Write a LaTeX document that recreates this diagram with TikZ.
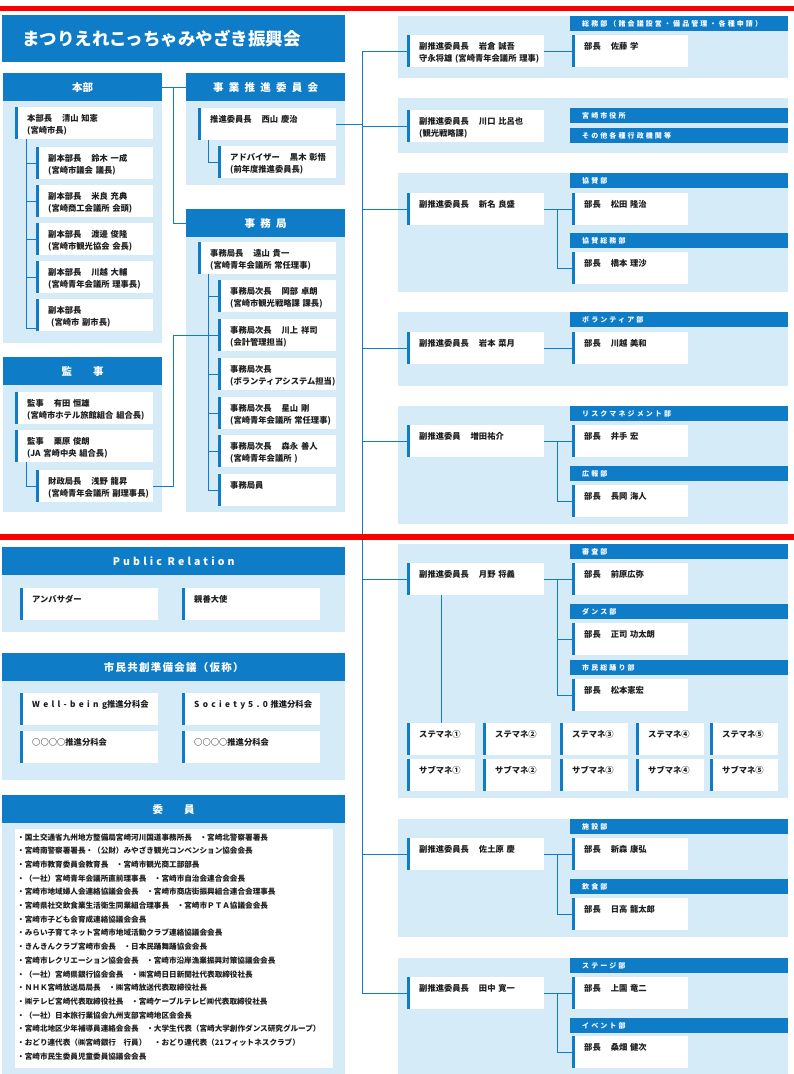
\documentclass[tikz,border=0pt]{standalone}
\usepackage{fontspec}
\setmainfont{Noto Sans CJK JP}
\newfontfamily\hdwide{Noto Sans CJK JP}[LetterSpace=50]
\newfontfamily\hdmid{Noto Sans CJK JP}[LetterSpace=30]
\newfontfamily\hdnarrow{Noto Sans CJK JP}[LetterSpace=12]
\newfontfamily\latwide{Noto Sans CJK JP}[LetterSpace=40]

\definecolor{hblue}{RGB}{14,124,199}
\definecolor{lblue}{RGB}{213,235,248}
\definecolor{ink}{RGB}{30,30,30}
\definecolor{redline}{RGB}{250,0,0}

\newcommand{\gap}{\nobreak\hspace{1.2em}}

\tikzset{
  ln/.style={draw=hblue, line width=1pt},
  pnl/.style={fill=lblue},
  hd/.style={fill=hblue, text=white, anchor=north west, inner sep=0pt,
    minimum width=#1, minimum height=28pt,
    font=\bfseries\fontsize{10.5}{12}\selectfont},
  sec/.style={fill=hblue, text=white, anchor=north west, inner xsep=12pt,
    inner ysep=0pt, text width=194pt, minimum height=15pt, align=left,
    font=\hdmid\bfseries\fontsize{7}{9}\selectfont},
  mb/.style={fill=white, anchor=north west, inner xsep=12pt, inner ysep=3pt,
    text width=#1, align=left, text height=11pt, text depth=15pt, text=ink,
    font=\bfseries\fontsize{8.3}{12}\selectfont,
    path picture={\fill[hblue] (path picture bounding box.north west)
      rectangle ([xshift=3pt]path picture bounding box.south west);}},
}

\begin{document}
\begin{tikzpicture}[x=1pt, y=-1pt]
\useasboundingbox (0,0) rectangle (794,1074);

% panels
\fill[pnl] (3,101) rectangle (162,343);
\fill[pnl] (186,101) rectangle (345,185);
\fill[pnl] (186,237) rectangle (345,512);
\fill[pnl] (3,385) rectangle (162,512);
\fill[pnl] (2,575) rectangle (345,632);
\fill[pnl] (2,681) rectangle (345,780);
\fill[pnl] (2,823) rectangle (345,1074);
\fill[white] (15,829) rectangle (333,1068);
\foreach \ya/\yb in {16/78, 98/153, 173/292, 312/386, 406/524, 544/798, 819/937, 958/1074}
  \fill[pnl] (398,\ya) rectangle (788,\yb);

% title and headers
\node[hd=343pt, minimum height=47pt, inner xsep=20pt, text width=303pt, align=left,
  font=\bfseries\fontsize{17.5}{20}\selectfont] (ttl) at (2,15) {まつりえれこっちゃみやざき振興会};
\node[hd=159pt] (hd1) at (3,73) {本部};
\node[hd=159pt] (hd2) at (186,73) {\hdwide 事業推進委員会};
\node[hd=159pt] (hd3) at (186,209) {\hdwide 事務局};
\node[hd=159pt] (hd4) at (3,357) {\hdwide 監　事};
\node[hd=343pt] (hd5) at (2,547) {\hdmid Public Relation};
\node[hd=343pt] (hd6) at (2,653) {\hdnarrow 市民共創準備会議（仮称）};
\node[hd=343pt] (hd7) at (2,795) {\hdwide 委　員};

% 本部
\node[mb=114pt] (h0) at (15,107) {本部長\gap 清山~知憲\\(宮崎市長)};
\node[mb=93pt] (h1) at (36,147) {副本部長\gap 鈴木~一成\\(宮崎市議会~議長)};
\node[mb=93pt] (h2) at (36,185) {副本部長\gap 米良~充典\\(宮崎商工会議所~会頭)};
\node[mb=93pt] (h3) at (36,223) {副本部長\gap 渡邊~俊隆\\(宮崎市観光協会~会長)};
\node[mb=93pt] (h4) at (36,261) {副本部長\gap 川越~大輔\\(宮崎青年会議所~理事長)};
\node[mb=93pt] (h5) at (36,299) {副本部長\\\hspace*{3pt}(宮崎市~副市長)};

% 事業推進委員会
\node[mb=114pt] (p0) at (198,108) {推進委員長\gap 西山~慶治};
\node[mb=94pt] (p1) at (218,146) {アドバイザー\gap 黒木~彰悟\\(前年度推進委員長)};

% 事務局
\node[mb=114pt] (j0) at (198,242) {事務局長\gap 遠山~貴一\\(宮崎青年会議所~常任理事)};
\node[mb=94pt] (j1) at (218,280) {事務局次長\gap 岡部~卓朗\\(宮崎市観光戦略課~課長)};
\node[mb=94pt] (j2) at (218,319) {事務局次長\gap 川上~祥司\\(会計管理担当)};
\node[mb=94pt] (j3) at (218,358) {事務局次長\\(ボランティアシステム担当)};
\node[mb=94pt] (j4) at (218,397) {事務局次長\gap 星山~剛\\(宮崎青年会議所~常任理事)};
\node[mb=94pt] (j5) at (218,435) {事務局次長\gap 森永~善人\\(宮崎青年会議所~)};
\node[mb=94pt] (j6) at (218,474) {事務局員};

% 監事
\node[mb=114pt] (k0) at (15,392) {監事\gap 有田~恒雄\\(宮崎市ホテル旅館組合~組合長)};
\node[mb=114pt] (k1) at (15,430) {監事\gap 栗原~俊朗\\(JA~宮崎中央~組合長)};
\node[mb=93pt] (k2) at (36,470) {財政局長\gap 浅野~龍昇\\(宮崎青年会議所~副理事長)};

% Public Relation / 市民共創準備会議
\node[mb=114pt] (pr1) at (20,588) {アンバサダー};
\node[mb=114pt] (pr2) at (182,588) {親善大使};
\node[mb=114pt] (c1) at (20,693) {{\latwide Well-being}推進分科会};
\node[mb=114pt] (c2) at (182,693) {{\latwide Society~5.0}~推進分科会};
\node[mb=114pt] (c3) at (20,731) {○○○○推進分科会};
\node[mb=114pt] (c4) at (182,731) {○○○○推進分科会};

% 委員
\node[anchor=base west, inner sep=0pt, text width=314pt, align=left, text=ink,
  font=\bfseries\fontsize{7.6}{13.7}\selectfont] (iin) at (17,840) {%
・国土交通省九州地方整備局宮崎河川国道事務所長　・宮崎北警察署署長\\
・宮崎南警察署署長・（公財）みやざき観光コンベンション協会会長\\
・宮崎市教育委員会教育長　・宮崎市観光商工部部長\\
・（一社）宮崎青年会議所直前理事長　・宮崎市自治会連合会会長\\
・宮崎市地域婦人会連絡協議会会長　・宮崎市商店街振興組合連合会理事長\\
・宮崎県社交飲食業生活衛生同業組合理事長　・宮崎市ＰＴＡ協議会会長\\
・宮崎市子ども会育成連絡協議会会長\\
・みらい子育てネット宮崎市地域活動クラブ連絡協議会会長\\
・きんきんクラブ宮崎市会長　・日本民踊舞踊協会会長\\
・宮崎市レクリエーション協会会長　・宮崎市沿岸漁業振興対策協議会会長\\
・（一社）宮崎県銀行協会会長　・㈱宮崎日日新聞社代表取締役社長\\
・ＮＨＫ宮崎放送局局長　・㈱宮崎放送代表取締役社長\\
・㈱テレビ宮崎代表取締役社長　・宮崎ケーブルテレビ㈱代表取締役社長\\
・（一社）日本旅行業協会九州支部宮崎地区会会長\\
・宮崎北地区少年補導員連絡会会長　・大学生代表（宮崎大学創作ダンス研究グループ）\\
・おどり連代表（㈱宮崎銀行　行員）　・おどり連代表（21フィットネスクラブ）\\
・宮崎市民生委員児童委員協議会会長};

% right column
\node[sec] (r1) at (570,16) {総務部（諸会議設営・備品管理・各種申請）};
\node[mb=113pt] (v1) at (407,35) {副推進委員長\gap 岩倉~誠吾\\守永将雄~(宮崎青年会議所~理事)};
\node[mb=92pt] (b1) at (572,35) {部長\gap 佐藤~学};

\node[mb=113pt] (v2) at (407,110) {副推進委員長\gap 川口~比呂也\\(観光戦略課)};
\node[sec] (r2a) at (570,108) {宮崎市役所};
\node[sec] (r2b) at (570,128) {その他各種行政機関等};

\node[mb=113pt] (v3) at (407,193) {副推進委員長\gap 新名~良盛};
\node[sec] (r3a) at (570,173) {協賛部};
\node[mb=92pt] (b3a) at (572,193) {部長\gap 松田~隆治};
\node[sec] (r3b) at (570,233) {協賛総務部};
\node[mb=92pt] (b3b) at (572,252) {部長\gap 橋本~理沙};

\node[mb=113pt] (v4) at (407,332) {副推進委員長\gap 岩本~菜月};
\node[sec] (r4) at (570,312) {ボランティア部};
\node[mb=92pt] (b4) at (572,332) {部長\gap 川越~美和};

\node[mb=113pt] (v5) at (407,425) {副推進委員\gap 増田祐介};
\node[sec] (r5a) at (570,406) {リスクマネジメント部};
\node[mb=92pt] (b5a) at (572,425) {部長\gap 井手~宏};
\node[sec] (r5b) at (570,466) {広報部};
\node[mb=92pt] (b5b) at (572,485) {部長\gap 長岡~海人};

\node[mb=113pt] (v6) at (407,563) {副推進委員長\gap 月野~将義};
\node[sec] (r6a) at (570,544) {審査部};
\node[mb=92pt] (b6a) at (572,563) {部長\gap 前原広弥};
\node[sec] (r6b) at (570,604) {ダンス部};
\node[mb=92pt] (b6b) at (572,623) {部長\gap 正司~功太朗};
\node[sec] (r6c) at (570,660) {市民総踊り部};
\node[mb=92pt] (b6c) at (572,679) {部長\gap 松本憲宏};
\foreach \i/\x/\c in {1/407/①,2/483/②,3/560/③,4/636/④,5/710/⑤} {
  \node[mb=44pt] (s\i) at (\x,723) {ステマネ\c};
  \node[mb=44pt] (u\i) at (\x,759) {サブマネ\c};
}

\node[mb=113pt] (v7) at (407,838) {副推進委員長\gap 佐土原~慶};
\node[sec] (r7a) at (570,819) {施設部};
\node[mb=92pt] (b7a) at (572,838) {部長\gap 新森~康弘};
\node[sec] (r7b) at (570,879) {飲食部};
\node[mb=92pt] (b7b) at (572,898) {部長\gap 日高~龍太郎};

\node[mb=113pt] (v8) at (407,977) {副推進委員長\gap 田中~寛一};
\node[sec] (r8a) at (570,958) {ステージ部};
\node[mb=92pt] (b8a) at (572,977) {部長\gap 上園~竜二};
\node[sec] (r8b) at (570,1018) {イベント部};
\node[mb=92pt] (b8b) at (572,1036) {部長\gap 桑畑~健次};

% connectors
\coordinate (bus) at (362,0);
\coordinate (lbus) at (173,0);
\draw[ln] (h0.south west) ++(11,0) |- ([yshift=3pt]h5.south west);
\foreach \n in {h1,h2,h3,h4} \draw[ln] (\n.west) -- ++(-10,0);
\draw[ln] (p0.south west) ++(10,0) |- (p1.west);
\draw[ln] (j0.south west) ++(10,0) |- (j6.west);
\foreach \n in {j1,j2,j3,j4,j5} \draw[ln] (\n.west) -- ++(-10,0);
\draw[ln] (k1.south west) ++(11,0) |- (k2.west);
\draw[ln] (hd1.east) -- (hd2.west);
\draw[ln] (hd1.east) -| (lbus |- hd3.west) -- (hd3.west);
\draw[ln] (k2.east) -| (lbus |- j2.west) -- (j2.west);
\draw[ln] (p0.east) -- (p0.east -| bus);
\draw[ln] (v1.west) -- (v1.west -| bus) -- (v8.west -| bus) -- (v8.west);
\foreach \n in {v2,v3,v4,v5,v6,v7} \draw[ln] (\n.west) -- (\n.west -| bus);
\draw[ln] (v1.east) -- (b1.west);
\draw[ln] (v3.east) -- (b3a.west);
\draw[ln] (b3a.west) ++(-15,0) |- (b3b.west);
\draw[ln] (v4.east) -- (b4.west);
\draw[ln] (v5.east) -- (b5a.west);
\draw[ln] (b5a.west) ++(-15,0) |- (b5b.west);
\draw[ln] (v6.east) -- (b6a.west);
\draw[ln] (b6a.west) ++(-15,0) |- (b6c.west);
\draw[ln] (b6a.west) ++(-15,0) |- (b6b.west);
\draw[ln] (s1.north) -- (s1.north |- v6.south);
\draw[ln] (v7.east) -- (b7a.west);
\draw[ln] (b7a.west) ++(-15,0) |- (b7b.west);
\draw[ln] (v8.east) -- (b8a.west);
\draw[ln] (b8a.west) ++(-15,0) |- (b8b.west);

% red rules
\fill[redline] (0,6) rectangle (794,11);
\fill[redline] (0,534) rectangle (794,540);
\end{tikzpicture}
\end{document}
